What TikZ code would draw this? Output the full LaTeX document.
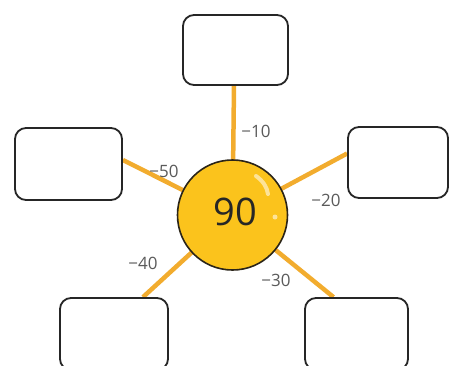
\documentclass[tikz,border=0pt]{standalone}
\usepackage{fontspec}
\setmainfont{Open Sans}
\usetikzlibrary{backgrounds}
\definecolor{linkorange}{HTML}{F2AC2E}
\definecolor{ballyellow}{HTML}{FBC31C}
\definecolor{ballrim}{HTML}{2A2418}
\definecolor{labelgrey}{HTML}{5A5A5A}
\tikzset{
  blankbox/.style={draw=black!85, line width=1.8pt, rounded corners=11pt, fill=white, inner sep=0pt},
  link/.style={draw=linkorange, line width=4.5pt},
  steplabel/.style={text=labelgrey, font=\fontsize{17}{17}\selectfont, inner sep=0pt},
}
\begin{document}
\begin{tikzpicture}[x=1pt,y=-1pt]
\useasboundingbox (0,0) rectangle (450,365);
% boxes
\node[blankbox, minimum width=105pt, minimum height=70pt] (T) at (235.5,50) {};
\node[blankbox, minimum width=107pt, minimum height=72pt] (L) at (68.5,164) {};
\node[blankbox, minimum width=100pt, minimum height=71pt] (R) at (398,162.5) {};
\node[blankbox, minimum width=108pt, minimum height=72pt] (BL) at (114,334) {};
\node[blankbox, minimum width=103pt, minimum height=72pt] (BR) at (356.5,334) {};
% ball
\node[circle, minimum size=110pt, inner sep=0pt, fill=ballyellow, draw=ballrim, line width=1.6pt] (ball) at (232.5,215) {};
\begin{pgfonlayer}{background}
\path[link] (ball.center) -- ([xshift=-1.5pt]T.south);
\path[link] (ball.center) -- ([yshift=4pt]L.east);
\path[link] (ball.center) -- ([yshift=9pt]R.west);
\path[link] (ball.center) -- ([xshift=29pt]BL.north);
\path[link] (ball.center) -- ([xshift=-23pt]BR.north);
\end{pgfonlayer}
\draw[white, opacity=0.55, line width=4pt, line cap=round] (256,176) .. controls (263,181) and (267,187) .. (268,194);
\fill[white, opacity=0.55] (275,217) circle (2.5pt);
\node[text=black!85, font=\fontsize{38}{38}\selectfont, inner sep=0pt] (num) at (235,212) {90};
% labels
\node[steplabel] (l10) at (256,131) {−10};
\node[steplabel] (l50) at (164,171) {−50};
\node[steplabel] (l20) at (326,200) {−20};
\node[steplabel] (l40) at (143,263) {−40};
\node[steplabel] (l30) at (276,280) {−30};
\end{tikzpicture}
\end{document}
